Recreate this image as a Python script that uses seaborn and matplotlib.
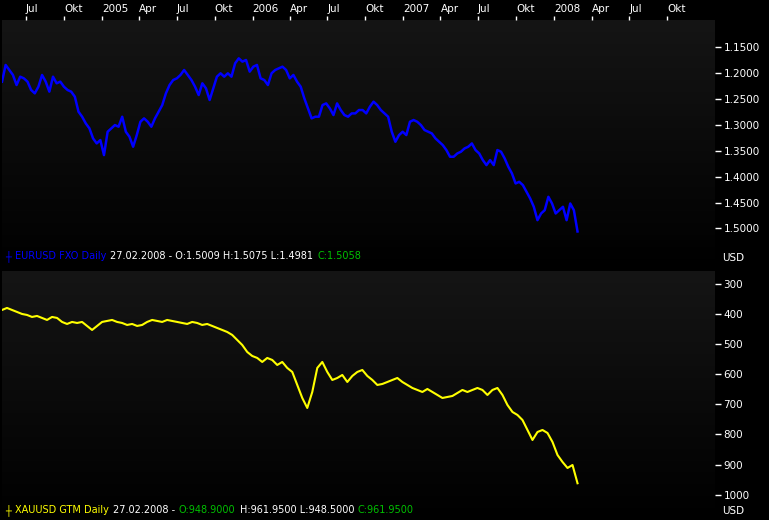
import numpy as np
import pandas as pd
import matplotlib
matplotlib.use("Agg")
import matplotlib.pyplot as plt
import seaborn as sns
from matplotlib.colors import LinearSegmentedColormap

# EURUSD closes (roughly every 9 days)
eur_values = [
    1.2169, 1.1847, 1.1944, 1.2040, 1.2234, 1.2073, 1.2105, 1.2169, 1.2330, 1.2394,
    1.2266, 1.2040, 1.2169, 1.2362, 1.2073, 1.2201, 1.2169, 1.2266, 1.2330, 1.2362,
    1.2459, 1.2748, 1.2845, 1.2974, 1.3070, 1.3263, 1.3360, 1.3295, 1.3585, 1.3135,
    1.3070, 1.3006, 1.3038, 1.2845, 1.3135, 1.3231, 1.3424, 1.3199, 1.2942, 1.2877,
    1.2942, 1.3038, 1.2877, 1.2748, 1.2620, 1.2394, 1.2234, 1.2137, 1.2105, 1.2040,
    1.1944, 1.2040, 1.2137, 1.2266, 1.2427, 1.2201, 1.2298, 1.2523, 1.2298, 1.2073,
    1.2008, 1.2073, 1.2008, 1.2073, 1.1815, 1.1719, 1.1783, 1.1751, 1.1976, 1.1880,
    1.1847, 1.2105, 1.2137, 1.2234, 1.2008, 1.1944, 1.1912, 1.1880, 1.1944, 1.2105,
    1.2040, 1.2169, 1.2266, 1.2491, 1.2684, 1.2877, 1.2845, 1.2845, 1.2620, 1.2588,
    1.2684, 1.2813, 1.2588, 1.2716, 1.2813, 1.2845, 1.2781, 1.2781, 1.2716, 1.2716,
    1.2781, 1.2652, 1.2555, 1.2620, 1.2716, 1.2781, 1.2845, 1.3135, 1.3328, 1.3199,
    1.3135, 1.3199, 1.2942, 1.2909, 1.2942, 1.3006, 1.3102, 1.3135, 1.3167, 1.3263,
    1.3328, 1.3392, 1.3488, 1.3617, 1.3617, 1.3553, 1.3520, 1.3456, 1.3424, 1.3360,
    1.3488, 1.3553, 1.3681, 1.3778, 1.3681, 1.3778, 1.3488, 1.3520, 1.3649, 1.3810,
    1.3939, 1.4132, 1.4100, 1.4164, 1.4293, 1.4421, 1.4582, 1.4840, 1.4711, 1.4647,
    1.4389, 1.4518, 1.4711, 1.4647, 1.4582, 1.4840, 1.4518, 1.4647, 1.5058,
]

# XAUUSD closes (roughly every 12 days)
gold_values = [
    386.4, 379.7, 386.4, 393.0, 399.7, 403.0, 409.6, 406.3, 412.9, 419.6,
    409.6, 412.9, 426.2, 432.9, 426.2, 429.6, 426.2, 439.5, 452.8, 439.5,
    426.2, 422.9, 419.6, 426.2, 429.6, 436.2, 432.9, 439.5, 436.2, 426.2,
    419.6, 422.9, 426.2, 419.6, 422.9, 426.2, 429.6, 432.9, 426.2, 429.6,
    436.2, 432.9, 439.5, 446.2, 452.8, 459.5, 469.4, 486.0, 502.6, 525.9,
    539.2, 545.8, 559.1, 545.8, 552.5, 569.1, 559.1, 579.0, 592.3, 635.5,
    678.7, 711.9, 658.8, 579.0, 559.1, 592.3, 618.9, 612.3, 602.3, 625.6,
    605.6, 592.3, 585.7, 605.6, 618.9, 635.5, 632.2, 625.6, 618.9, 612.3,
    625.6, 635.5, 645.5, 652.1, 658.8, 648.8, 658.8, 668.7, 678.7, 675.4,
    672.1, 662.1, 652.1, 658.8, 652.1, 645.5, 652.1, 668.7, 652.1, 645.5,
    668.7, 702.0, 725.2, 735.2, 751.8, 785.0, 818.2, 791.7, 785.0, 795.0,
    824.9, 868.1, 891.3, 911.2, 901.3, 961.95,
]

eur_dates = pd.date_range("2004-05-04", "2008-02-27", periods=len(eur_values))
gold_dates = pd.date_range("2004-05-04", "2008-02-27", periods=len(gold_values))

quarter_ticks = pd.date_range("2004-07-01", periods=18, freq="QS")
quarter_labels = ["Jul", "Okt", "2005", "Apr", "Jul", "Okt", "2006", "Apr", "Jul",
                  "Okt", "2007", "Apr", "Jul", "Okt", "2008", "Apr", "Jul", "Okt"]

eur_ticks = [1.15, 1.20, 1.25, 1.30, 1.35, 1.40, 1.45, 1.50]
gold_ticks = [300, 400, 500, 600, 700, 800, 900, 1000]

eur_header = [("┼", "#0000ff"), ("EURUSD FXO Daily", "#0000ff"),
              ("27.02.2008 - O:1.5009 H:1.5075 L:1.4981", "white"),
              ("C:1.5058", "#00c000")]
gold_header = [("┼", "#ffff00"), ("XAUUSD GTM Daily", "#ffff00"),
               ("27.02.2008 -", "white"), ("O:948.9000", "#00c000"),
               ("H:961.9500 L:948.5000", "white"), ("C:961.9500", "#00c000")]

W, H = 769, 520
plt.rcParams["font.family"] = ["DejaVu Sans"]
plt.rcParams["font.size"] = 7.5

fig = plt.figure(figsize=(W / 100, H / 100), dpi=100, facecolor="black")
ax1 = fig.add_axes([2 / W, (H - 271) / H, 713 / W, 251 / H])
ax2 = fig.add_axes([2 / W, 0, 713 / W, 249 / H])

panel_cmap = LinearSegmentedColormap.from_list("panel", ["#000000", "#151515"])
grad = np.linspace(0, 1, 256).reshape(-1, 1)

sns.lineplot(x=eur_dates, y=eur_values, ax=ax1, color="#0000ff", linewidth=1.8)
sns.lineplot(x=gold_dates, y=gold_values, ax=ax2, color="#ffff00", linewidth=1.5)

xlim = (pd.Timestamp("2004-05-04"), pd.Timestamp("2009-01-25"))
for ax, ticks, lim, fmt in [(ax1, eur_ticks, (1.582, 1.098), "{:.4f}"),
                            (ax2, gold_ticks, (1084, 257), "{:d}")]:
    ax.imshow(grad, extent=[0, 1, 0, 1], transform=ax.transAxes, origin="lower",
              aspect="auto", cmap=panel_cmap, zorder=0)
    ax.set_xlim(*xlim)
    ax.set_ylim(*lim)
    ax.set_yticks(ticks)
    ax.set_yticklabels([fmt.format(t) for t in ticks])
    ax.yaxis.tick_right()
    ax.tick_params(axis="y", colors="white", length=4, width=1, pad=2, labelsize=7.5)
    for s in ax.spines.values():
        s.set_visible(False)
    ax.set_xlabel("")
    ax.set_ylabel("")

ax1.set_xticks(quarter_ticks)
ax1.set_xticklabels(quarter_labels, ha="left")
ax1.xaxis.tick_top()
ax1.tick_params(axis="x", colors="white", length=3, width=1, pad=1, labelsize=7.5)
ax2.set_xticks([])

fig.text(722 / W, 1 - 258 / H, "USD", color="white", fontsize=7.5, va="center")
fig.text(722 / W, 1 - 511 / H, "USD", color="white", fontsize=7.5, va="center")


def header(y_px, parts):
    renderer = fig.canvas.get_renderer()
    x = 5
    for txt, col in parts:
        t = fig.text(x / W, 1 - y_px / H, txt, color=col, fontsize=7,
                     va="center", ha="left")
        bb = t.get_window_extent(renderer)
        x = bb.x1 + 4


header(256, eur_header)
header(510, gold_header)

fig.savefig("out.png", dpi=100, facecolor="black")
